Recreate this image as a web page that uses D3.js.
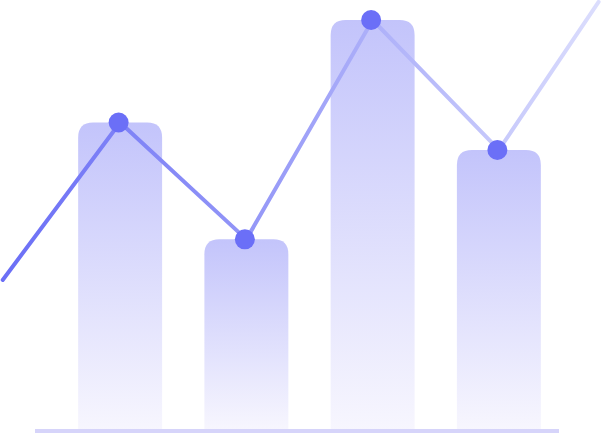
<!DOCTYPE html>
<html>
<head>
<meta charset="utf-8">
<script src="https://cdn.jsdelivr.net/npm/d3@7"></script>
<style>
  html, body { margin: 0; padding: 0; background: #fff; }
  svg { display: block; }
</style>
</head>
<body>
<div id="chart"></div>
<script>
let width = 602;
let height = 434;

// the four bars
let categories = ["A", "B", "C", "D"];
let values = [75, 46.5, 100, 68.3];
// the line starts left of the first bar and ends right of the last one
let linePos = [-0.93, 0, 1, 2, 3, 3.79];
let lineValues = [36.6, 75, 46.5, 100, 68.3, 104.4];

let svg = d3.select("#chart").append("svg")
	.attr("width", width)
	.attr("height", height);

let defs = svg.append("defs");

let barGrad = defs.append("linearGradient")
	.attr("id", "barGrad")
	.attr("x1", 0).attr("y1", 0)
	.attr("x2", 0).attr("y2", 1);
barGrad.append("stop").attr("offset", "0%").attr("stop-color", "#c3c4fb");
barGrad.append("stop").attr("offset", "100%").attr("stop-color", "#f7f6fe");

let lineGrad = defs.append("linearGradient")
	.attr("id", "lineGrad")
	.attr("gradientUnits", "userSpaceOnUse")
	.attr("x1", 0).attr("y1", 0)
	.attr("x2", width).attr("y2", 0);
lineGrad.append("stop").attr("offset", "0%").attr("stop-color", "#6a6ef6");
lineGrad.append("stop").attr("offset", "40%").attr("stop-color", "#9295f7");
lineGrad.append("stop").attr("offset", "100%").attr("stop-color", "#dcdefd");

let x = d3.scaleBand()
	.domain(categories)
	.range([57, 562])
	.paddingInner(0.335)
	.paddingOuter(0.1675);

let y = d3.scaleLinear()
	.domain([0, 100])
	.range([430, 20]);

let radius = 15;

// bars, rounded at the top only
function barPath(d, i){
	let x0 = x(categories[i]);
	let x1 = x0 + x.bandwidth();
	let top = y(d);
	let bottom = y(0);
	return "M" + x0 + "," + bottom +
		"V" + (top + radius) +
		"Q" + x0 + "," + top + " " + (x0 + radius) + "," + top +
		"H" + (x1 - radius) +
		"Q" + x1 + "," + top + " " + x1 + "," + (top + radius) +
		"V" + bottom + "Z";
}

svg.append("g").selectAll("path")
	.data(values)
	.enter().append("path")
	.attr("d", barPath)
	.attr("fill", "url(#barGrad)");

// bar centre for a (possibly fractional) category position
let step = x.step();
let center = function(p){ return x(categories[0]) + x.bandwidth() / 2 + p * step; };

let line = d3.line()
	.x(function(d, i){ return center(linePos[i]); })
	.y(function(d){ return y(d); });

svg.append("path")
	.datum(lineValues)
	.attr("d", line)
	.attr("fill", "none")
	.attr("stroke", "url(#lineGrad)")
	.attr("stroke-width", 4)
	.attr("stroke-linecap", "round")
	.attr("stroke-linejoin", "round");

svg.append("g").selectAll("circle")
	.data(values)
	.enter().append("circle")
	.attr("cx", function(d, i){ return center(i) - 1.5; })
	.attr("cy", function(d){ return y(d); })
	.attr("r", 10)
	.attr("fill", "#6b6ff7");

// baseline
svg.append("line")
	.attr("x1", 35)
	.attr("x2", 559)
	.attr("y1", y(0) + 1)
	.attr("y2", y(0) + 1)
	.attr("stroke", "#d6d4fa")
	.attr("stroke-width", 4);
</script>
</body>
</html>
